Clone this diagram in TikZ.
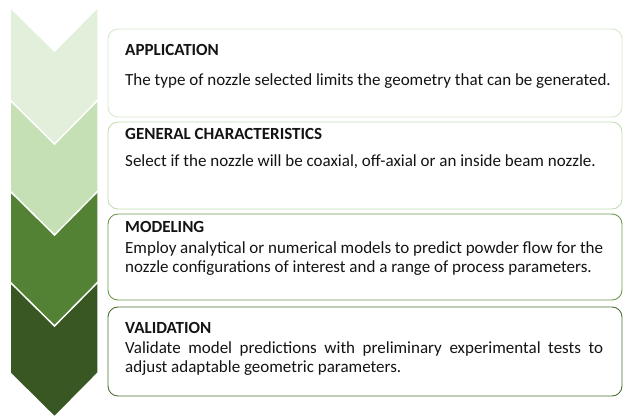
\documentclass[tikz,border=0pt]{standalone}
\usepackage{fontspec}
\setmainfont{Carlito}
\definecolor{chA}{HTML}{E2EFDA}
\definecolor{chB}{HTML}{C5E0B4}
\definecolor{chC}{HTML}{548235}
\definecolor{chD}{HTML}{385723}
\definecolor{bdA}{HTML}{D6E8CC}
\definecolor{bdB}{HTML}{C3DEB2}
\definecolor{bdC}{HTML}{6E9B4E}
\definecolor{bdD}{HTML}{4C7034}
\definecolor{txt}{HTML}{141414}
\tikzset{
  chev/.style={draw=white, line width=1.5pt, line join=miter},
  box/.style={draw, rounded corners=10pt, line width=0.9pt, minimum width=514pt, fill=white},
  ttl/.style={anchor=base west, inner sep=0pt, font=\fontsize{17}{19}\selectfont\bfseries, text=txt},
  bodytxt/.style={anchor=base west, inner sep=0pt, font=\fontsize{17}{19}\selectfont, text=txt},
  parbody/.style={anchor=base west, inner sep=0pt, text width=478pt, align=justify, font=\fontsize{17}{19}\selectfont, text=txt}
}
\begin{document}
\begin{tikzpicture}[x=1pt,y=-1pt]
\useasboundingbox (0,0) rectangle (625,420);
% chevrons, bottom to top
\foreach \yy/\cc in {280/chD,189/chC,98/chB,7/chA}{
  \path[chev, fill=\cc] (10,\yy) -- (54.5,\yy+44) -- (98,\yy) -- (98,\yy+93) -- (54.5,\yy+137) -- (10,\yy+93) -- cycle;
}
% boxes
\node[box, draw=bdA, minimum height=88pt] (box1) at (365,73) {};
\node[box, draw=bdB, minimum height=87pt] (box2) at (365,165.5) {};
\node[box, draw=bdC, minimum height=86pt] (box3) at (365,257) {};
\node[box, draw=bdD, minimum height=89pt] (box4) at (365,351.5) {};
% texts
\node[ttl] (t1) at (125,55.5) {APPLICATION};
\node[bodytxt] (b1) at (125,85.5) {The type of nozzle selected limits the geometry that can be generated.};
\node[ttl] (t2) at (125,140) {GENERAL CHARACTERISTICS};
\node[bodytxt] (b2) at (125,167) {Select if the nozzle will be coaxial, off-axial or an inside beam nozzle.};
\node[ttl] (t3) at (125,233) {MODELING};
\node[parbody] (b3) at (125,253.5) {Employ analytical or numerical models to predict powder flow for the\linebreak nozzle configurations of interest and a range of process parameters.};
\node[ttl] (t4) at (125,333) {VALIDATION};
\node[parbody] (b4) at (125,353) {Validate model predictions with preliminary experimental tests to\linebreak adjust adaptable geometric parameters.};
\end{tikzpicture}
\end{document}
